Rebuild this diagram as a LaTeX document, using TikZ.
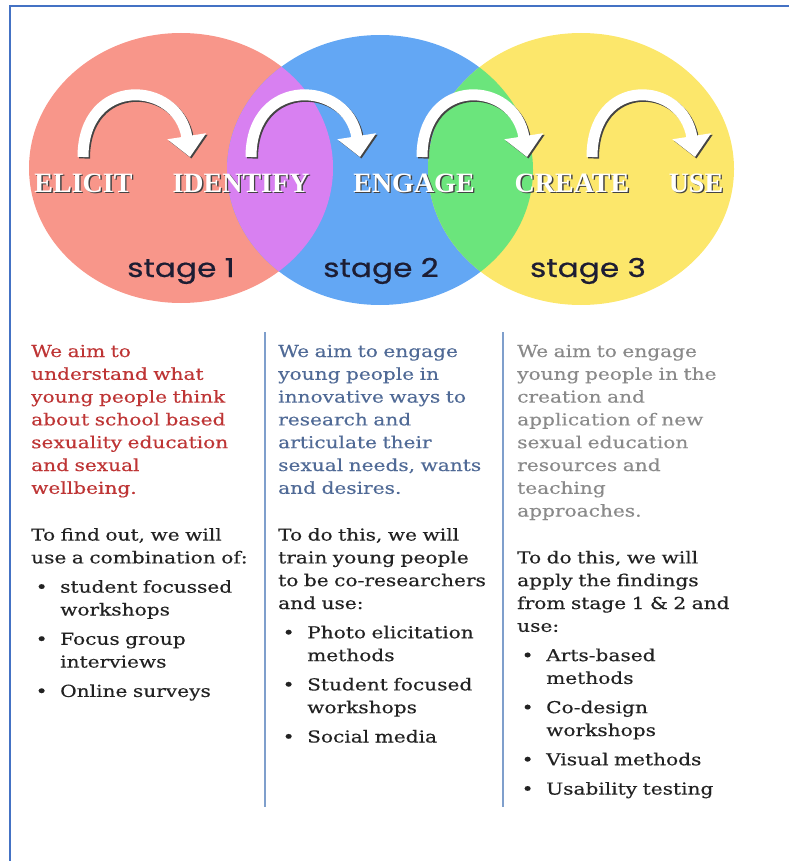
\documentclass[tikz,border=0pt]{standalone}
\usepackage{fontspec}
\setmainfont{DejaVu Serif}[FakeStretch=1.22,FakeBold=0.4]
\newfontfamily\wordfont{Liberation Serif}
\newfontfamily\stagefont{Poppins}[FakeStretch=1.2,FakeBold=0.6]
\usetikzlibrary{arrows.meta,positioning,calc}
\definecolor{circred}{HTML}{F8968A}
\definecolor{circblue}{HTML}{63A7F4}
\definecolor{circyellow}{HTML}{FCE76B}
\definecolor{lenspurple}{HTML}{D880F1}
\definecolor{lensgreen}{HTML}{6BE57C}
\definecolor{shadowink}{HTML}{444444}
\definecolor{stageink}{HTML}{1D1D33}
\definecolor{aimred}{HTML}{BE3535}
\definecolor{aimblue}{HTML}{506A96}
\definecolor{aimgrey}{HTML}{8A8A8A}
\definecolor{bodyink}{HTML}{222222}
\definecolor{frameblue}{HTML}{4472C4}
\definecolor{dividerblue}{HTML}{7F9FCC}
\tikzset{frame/.style={draw=frameblue,line width=2pt}}
\tikzset{divider/.style={draw=dividerblue,line width=2pt}}
\tikzset{word/.style={anchor=base,inner sep=0pt,font=\wordfont\bfseries\fontsize{28}{28}\selectfont}}
\tikzset{stagelabel/.style={anchor=base,inner sep=0pt,text=stageink,font=\stagefont\fontsize{26}{26}\selectfont}}
\tikzset{column/.style={anchor=base west,inner sep=0pt,text width=260pt,align=left,text=bodyink,font=\fontsize{16.5}{22.8}\selectfont}}
\tikzset{bigarrow/.style={line width=11pt,-{Triangle[width=38pt,length=21pt]}}}
\newcommand\embossed[1]{\makebox[0pt][l]{\hspace{1.4pt}\raisebox{-1.4pt}{\color{shadowink}#1}}\textcolor{white}{#1}}
\newcommand\bulletline{\par\vspace{6.5pt}\hangindent=29pt\hangafter=1\noindent\makebox[29pt][l]{\hspace{4.5pt}\textbullet}}
\newcommand\aimgap{\par\vspace{24pt}}
\begin{document}
\begin{tikzpicture}[x=1pt,y=-1pt]
      \useasboundingbox (0,0) rectangle (789,861);
      % the three stages
      \fill[circred] (181,168) ellipse [x radius=152,y radius=135];
      \fill[circblue] (380,170) ellipse [x radius=153,y radius=135];
      \fill[circyellow] (581,169) ellipse [x radius=153,y radius=136];
      \begin{scope}
        \clip (181,168) ellipse [x radius=152,y radius=135];
        \fill[lenspurple] (380,170) ellipse [x radius=153,y radius=135];
      \end{scope}
      \begin{scope}
        \clip (380,170) ellipse [x radius=153,y radius=135];
        \fill[lensgreen] (581,169) ellipse [x radius=153,y radius=136];
      \end{scope}

      \node[word] (elicit) at (83.5,192) {\embossed{ELICIT}};
      \node[word] (identify) at (241,192) {\embossed{IDENTIFY}};
      \node[word] (engage) at (414,192) {\embossed{ENGAGE}};
      \node[word] (create) at (572,192) {\embossed{CREATE}};
      \node[word] (use) at (696,192) {\embossed{USE}};

      \foreach \n/\xa/\xb in {1/83/190,2/251/360,3/422/527,4/592/695}{
        \coordinate (from\n) at (\xa,157);
        \coordinate (to\n) at (\xb,157);
        \draw[bigarrow,shadowink,transform canvas={xshift=1.5pt,yshift=-1.5pt}] (from\n) .. controls ($(from\n)+(0,-82)$) and ($(to\n)+(-12,-77)$) .. (to\n);
        \draw[bigarrow,white] (from\n) .. controls ($(from\n)+(0,-82)$) and ($(to\n)+(-12,-77)$) .. (to\n);
      }

      \node[stagelabel] (stage1) at (181,277) {stage 1};
      \node[stagelabel] (stage2) at (381,277) {stage 2};
      \node[stagelabel] (stage3) at (588,277) {stage 3};

      % frame and column rules
      \draw[frame] (10,861) -- (10,6) -- (789,6);
      \draw[divider] (265,332) -- (265,807);
      \draw[divider] (503,332) -- (503,807);

      \node[column] (colI) at (31,357) {{\color{aimred}We aim to\newline understand what\newline young people think\newline about school based\newline sexuality education\newline and sexual\newline wellbeing.}\aimgap
        To find out, we will\newline use a combination of:
        \bulletline student focussed\newline workshops
        \bulletline Focus group\newline interviews
        \bulletline Online surveys};
      \node[column] (colII) at (278,357) {{\color{aimblue}We aim to engage\newline young people in\newline innovative ways to\newline research and\newline articulate their\newline sexual needs, wants\newline and desires.}\aimgap
        To do this, we will\newline train young people\newline to be co-researchers\newline and use:
        \bulletline Photo elicitation\newline methods
        \bulletline Student focused\newline workshops
        \bulletline Social media};
      \node[column] (colIII) at (517,357) {{\color{aimgrey}We aim to engage\newline young people in the\newline creation and\newline application of new\newline sexual education\newline resources and\newline teaching\newline approaches.}\aimgap
        To do this, we will\newline apply the findings\newline from stage 1 \& 2 and\newline use:
        \bulletline Arts-based\newline methods
        \bulletline Co-design\newline workshops
        \bulletline Visual methods
        \bulletline Usability testing};
\end{tikzpicture}
\end{document}
